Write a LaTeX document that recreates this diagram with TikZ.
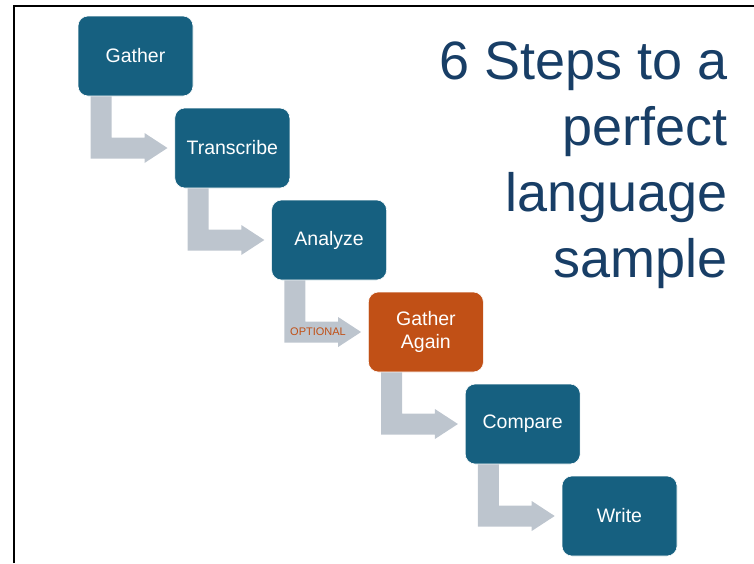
\documentclass[tikz,border=0pt]{standalone}
\usepackage{fontspec}
\setmainfont{Liberation Sans}
\usetikzlibrary{calc}
\definecolor{stepblue}{RGB}{22,96,128}
\definecolor{steporange}{RGB}{193,80,22}
\definecolor{arrowgray}{RGB}{189,197,206}
\definecolor{titleblue}{RGB}{24,62,102}

\begin{document}
\begin{tikzpicture}[x=1pt,y=1pt,
    stepbox/.style={rectangle, rounded corners=10pt, fill=stepblue, draw=white,
      line width=0.6pt, minimum width=115pt, minimum height=80pt, inner sep=0pt,
      text=white, align=center, font=\fontsize{19.5}{23}\selectfont}]
    \useasboundingbox (0,0) rectangle (754,-563);
    \draw[line width=2pt] (14,-563) -- (14,-6) -- (754,-6);

    \node[stepbox] (gather) at (135.5,-56) {Gather};
    \node[stepbox] (transcribe) at (232.3,-148) {Transcribe};
    \node[stepbox] (analyze) at (329.1,-240) {Analyze};
    \node[stepbox, fill=steporange] (again) at (425.9,-332) {Gather\\Again};
    \node[stepbox] (compare) at (522.7,-424) {Compare};
    \node[stepbox] (write) at (619.5,-516) {Write};

    \foreach \a/\b in {gather/transcribe, transcribe/analyze, analyze/again,
      again/compare, compare/write}
      \fill[arrowgray] ($(\a.south west)+(13,0)$) -- ++(21,0)
        |- ($(\b.west)+(-30,10.5)$) -- ++(0,4.5) -- ($(\b.west)+(-7,0)$)
        -- ($(\b.west)+(-30,-15)$) -- ++(0,4.5) -| ($(\a.south west)+(13,0)$) -- cycle;

    \node[text=steporange, font=\fontsize{11}{13}\selectfont] (optional) at (318,-332) {OPTIONAL};

    \node[anchor=north east, inner sep=0pt, align=right, text=titleblue,
      font=\fontsize{54}{66}\selectfont] (title) at (728,-41.5)
      {6 Steps to a\\perfect\\language\\sample};
  \end{tikzpicture}
\end{document}
